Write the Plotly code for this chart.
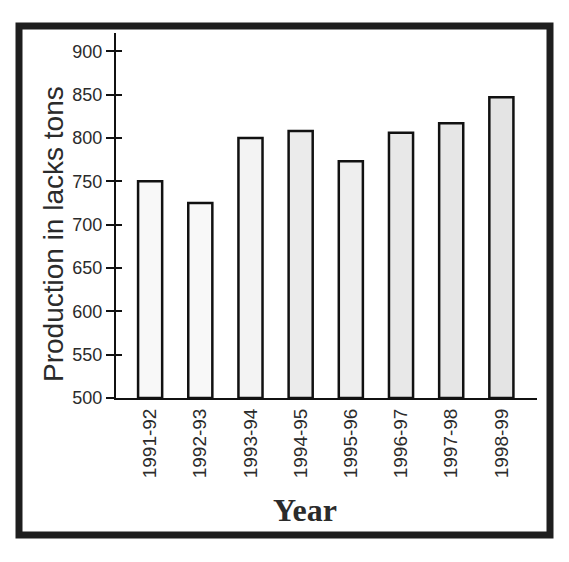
import plotly.graph_objects as go

years = ["1991-92", "1992-93", "1993-94", "1994-95", "1995-96", "1996-97", "1997-98", "1998-99"]
production = [750, 725, 800, 808, 773, 806, 817, 847]
y_ticks = [500, 550, 600, 650, 700, 750, 800, 850, 900]

# scanned bars: first ones look whiter, later ones greyer
bar_fills = ["#f8f8f8", "#f8f8f8", "#f3f3f3", "#ebebeb", "#eeeeee", "#e8e8e8", "#e6e6e6", "#e4e4e4"]

W, H = 569, 562
L, R, T, B = 116, 32, 33, 164
pw, ph = W - L - R, H - T - B


def px(x):
    return (x - L) / pw


def py(y):
    return (H - B - y) / ph


fig = go.Figure()
fig.add_trace(
    go.Bar(
        x=list(range(len(years))),
        y=[v - 500 for v in production],
        base=500,
        width=0.48,
        marker={"color": bar_fills, "line": {"color": "#111111", "width": 2.5}},
        showlegend=False,
        hoverinfo="skip",
    )
)
# empty trace so the overlay axis (inner half of the "+" ticks) gets drawn
fig.add_trace(go.Scatter(x=[], y=[], yaxis="y2", showlegend=False))

tick_font = {"family": "Liberation Sans, Arial, sans-serif", "size": 18, "color": "#2b2b2b"}

fig.update_layout(
    width=W,
    height=H,
    margin={"l": L, "r": R, "t": T, "b": B, "pad": 0},
    paper_bgcolor="white",
    plot_bgcolor="white",
    xaxis={
        "range": [-0.68, 7.71],
        "tickvals": list(range(len(years))),
        "ticktext": years,
        "tickangle": -90,
        "tickfont": {**tick_font, "size": 19},
        "ticks": "outside",
        "ticklen": 1,
        "tickcolor": "rgba(0,0,0,0)",
        "showline": True,
        "linecolor": "#111111",
        "linewidth": 2,
        "showgrid": False,
        "zeroline": False,
    },
    yaxis={
        "range": [500, 921],
        "tickvals": y_ticks,
        "tickfont": tick_font,
        "ticks": "outside",
        "ticklen": 8,
        "tickwidth": 1.5,
        "tickcolor": "#111111",
        "showline": True,
        "linecolor": "#111111",
        "linewidth": 2,
        "showgrid": False,
        "zeroline": False,
    },
    yaxis2={
        "range": [500, 921],
        "overlaying": "y",
        "side": "left",
        "tickvals": y_ticks,
        "showticklabels": False,
        "ticks": "inside",
        "ticklen": 6,
        "tickwidth": 1.5,
        "tickcolor": "#111111",
        "showline": False,
        "showgrid": False,
        "zeroline": False,
    },
    annotations=[
        {
            "text": "Production in lacks tons",
            "xref": "paper",
            "yref": "paper",
            "x": px(53),
            "y": py(234),
            "xanchor": "center",
            "yanchor": "middle",
            "textangle": -90,
            "showarrow": False,
            "font": {"family": "Liberation Sans, Arial, sans-serif", "size": 28, "color": "#2b2b2b"},
        },
        {
            "text": "<b>Year</b>",
            "xref": "paper",
            "yref": "paper",
            "x": px(305),
            "y": py(510),
            "xanchor": "center",
            "yanchor": "middle",
            "showarrow": False,
            "font": {"family": "Liberation Serif, Times New Roman, serif", "size": 32, "color": "#2b2b2b"},
        },
    ],
    shapes=[
        {
            "type": "rect",
            "xref": "paper",
            "yref": "paper",
            "x0": px(19),
            "x1": px(550),
            "y0": py(535),
            "y1": py(26),
            "line": {"color": "#1e1e1e", "width": 7},
            "fillcolor": "rgba(0,0,0,0)",
            "layer": "below",
        }
    ],
)

fig.write_html(
    "out.html",
    config={"displayModeBar": False},
    post_script="document.body.style.margin = '0';",
)
